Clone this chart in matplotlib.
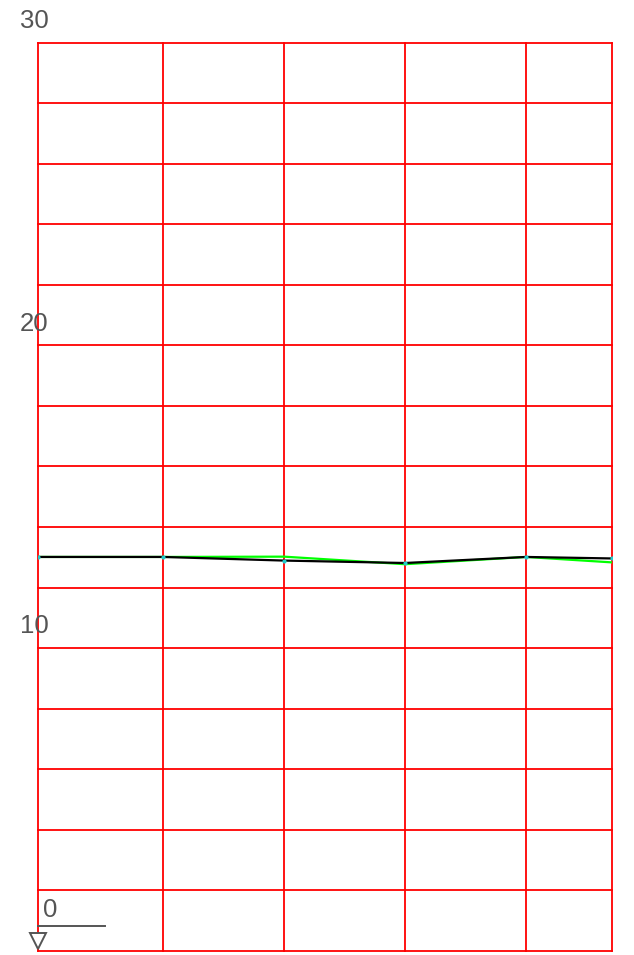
import numpy as np
import matplotlib.pyplot as plt

# station positions along the section and the two level series
x_pos = [0, 1.033, 2.033, 3.033, 4.033, 4.744]
level_black = [13.01, 13.01, 12.89, 12.81, 13.01, 12.96]
level_green = [13.01, 13.01, 13.02, 12.77, 13.01, 12.83]
y_labels = [30, 20, 10]
y_grid = np.arange(0, 31, 2)

plt.rcParams['font.family'] = ['Liberation Sans', 'DejaVu Sans']

fig = plt.figure(figsize=(6.34, 9.55), dpi=100)
ax = fig.add_axes([38 / 634, 4.5 / 955, (612 - 38) / 634, (950.5 - 43) / 955])
ax.set_xlim(0, x_pos[-1])
ax.set_ylim(0, 30)

# red grid
for y in y_grid:
    ax.axhline(y, color='#ff0000', lw=1.3, clip_on=False, zorder=1)
for x in x_pos:
    ax.axvline(x, color='#ff0000', lw=1.3, clip_on=False, zorder=1)

ax.plot(x_pos, level_green, color='#00ff00', lw=1.6, zorder=3)
ax.plot(x_pos, level_black, color='black', lw=1.6, zorder=4,
        marker='o', ms=2, mfc='#22cccc', mec='#22cccc')

for spine in ax.spines.values():
    spine.set_visible(False)
ax.set_xticks([])
ax.set_yticks([])

# y labels sit above their grid lines
for v in y_labels:
    ax.annotate(str(v), (0, v), xytext=(-2.5, 15.5), textcoords='offset points',
                ha='center', va='center', fontsize=18.5, color='#555555',
                annotation_clip=False)

# zero level marker
ax.annotate('0', (0, 0), xytext=(9, 29), textcoords='offset points',
            ha='center', va='center', fontsize=18.5, color='#555555',
            annotation_clip=False)
ax.plot([0, 0.554], [0.8, 0.8], color='#555555', lw=1.4, clip_on=False, zorder=5)
ax.plot([0], [0.33], marker='v', ms=11, mfc='white', mec='#555555', mew=1.4,
        clip_on=False, zorder=5)

fig.savefig('out.png', dpi=100)
